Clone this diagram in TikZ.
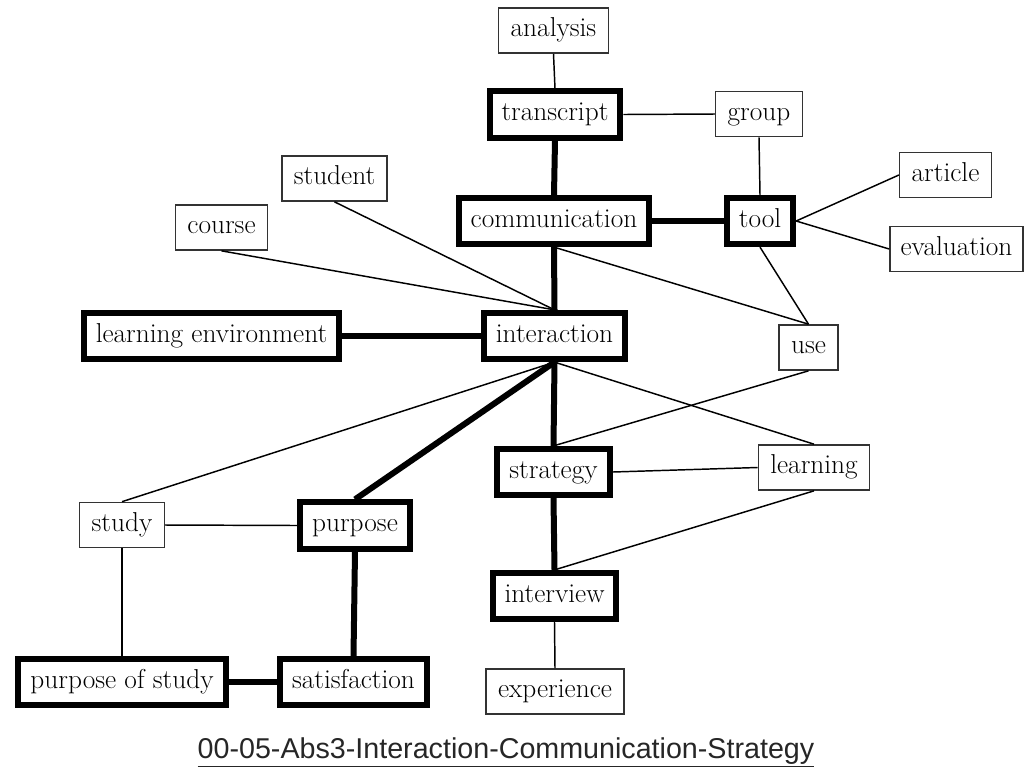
\documentclass[tikz,border=0pt]{standalone}
\usepackage{fontspec}
\newfontfamily\captionfont{Liberation Sans}
\usepackage{tikz}

\begin{document}
\begin{tikzpicture}[x=0.75pt, y=-0.75pt,
    concept/.style={rectangle, draw=black!80, line width=1.1pt, fill=white, inner xsep=9pt, inner ysep=7.8pt,
        text height=14pt, text depth=4.3pt, font=\fontsize{20.5}{24}\selectfont},
    coreconcept/.style={concept, draw=black, line width=4.5pt, inner ysep=8.2pt},
    thinlink/.style={line width=1.1pt},
    boldlink/.style={line width=4.5pt}]
    \useasboundingbox (0,0) rectangle (1025,776);

    \node[concept] (analysis) at (553.5,30.5) {analysis};
    \node[coreconcept] (transcript) at (555,114.5) {transcript};
    \node[concept] (group) at (759,114) {group};
    \node[concept] (student) at (334.5,178.5) {student};
    \node[concept] (article) at (945.5,175) {article};
    \node[concept] (course) at (221.5,227.5) {course};
    \node[coreconcept] (communication) at (554,221) {communication};
    \node[coreconcept] (tool) at (760,221) {tool};
    \node[concept, inner xsep=8pt] (evaluation) at (956.5,249) {evaluation};
    \node[coreconcept] (learnenv) at (211.5,336) {learning environment};
    \node[coreconcept] (interaction) at (554.5,336) {interaction};
    \node[concept] (use) at (808.5,347.5) {use};
    \node[coreconcept] (strategy) at (553.5,472) {strategy};
    \node[concept] (learning) at (814,467.5) {learning};
    \node[concept] (study) at (122,525) {study};
    \node[coreconcept] (purpose) at (355,525.5) {purpose};
    \node[coreconcept] (interview) at (554.5,596) {interview};
    \node[coreconcept] (purposestudy) at (122,682) {purpose of study};
    \node[coreconcept] (satisfaction) at (353.5,682) {satisfaction};
    \node[concept] (experience) at (555,691.5) {experience};

    % Strong links
    \draw[boldlink] (transcript.south) -- (communication.north);
    \draw[boldlink] (communication.east) -- (tool.west);
    \draw[boldlink] (communication.south) -- (interaction.north);
    \draw[boldlink] (learnenv.east) -- (interaction.west);
    \draw[boldlink] (interaction.south) -- (strategy.north);
    \draw[boldlink] (interaction.south) -- (purpose.north);
    \draw[boldlink] (strategy.south) -- (interview.north);
    \draw[boldlink] (purpose.south) -- (satisfaction.north);
    \draw[boldlink] (purposestudy.east) -- (satisfaction.west);

    % Weak links
    \draw[thinlink] (analysis.south) -- (transcript.north);
    \draw[thinlink] (transcript.east) -- (group.west);
    \draw[thinlink] (group.south) -- (tool.north);
    \draw[thinlink] (tool.east) -- (article.west);
    \draw[thinlink] (tool.east) -- (evaluation.west);
    \draw[thinlink] (tool.south) -- (use.north);
    \draw[thinlink] (communication.south) -- (use.north);
    \draw[thinlink] (course.south) -- (interaction.north);
    \draw[thinlink] (student.south) -- (interaction.north);
    \draw[thinlink] (use.south) -- (strategy.north);
    \draw[thinlink] (interaction.south) -- (learning.north);
    \draw[thinlink] (interaction.south) -- (study.north);
    \draw[thinlink] (strategy.east) -- (learning.west);
    \draw[thinlink] (learning.south) -- (interview.north);
    \draw[thinlink] (study.east) -- (purpose.west);
    \draw[thinlink] (study.south) -- (purposestudy.north);
    \draw[thinlink] (interview.south) -- (experience.north);

    \node[text=black!85, font=\captionfont\fontsize{21.5}{24}\selectfont] (title) at (506,752)
        {\underline{00-05-Abs3-Interaction-Communication-Strategy}};
\end{tikzpicture}
\end{document}
